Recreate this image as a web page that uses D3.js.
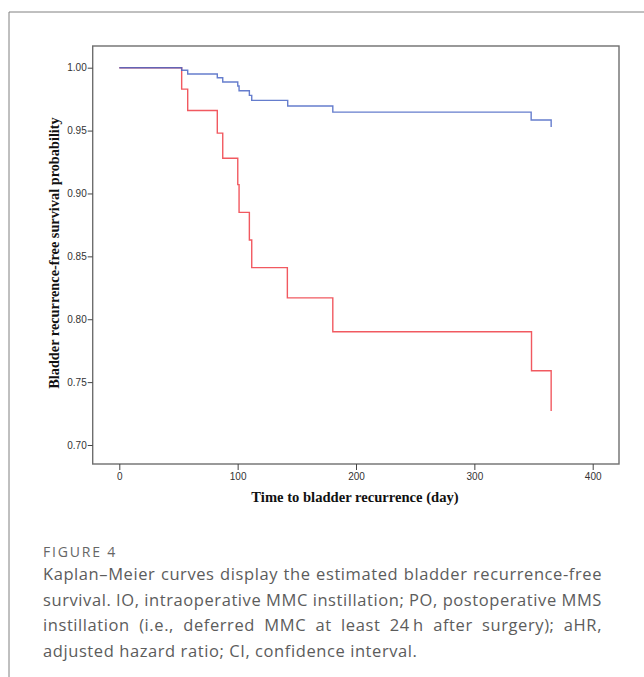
<!DOCTYPE html>
<html><head><meta charset="utf-8">
<script src="https://cdn.jsdelivr.net/npm/d3@7"></script>
<style>body{margin:0;background:#fff;} svg{display:block;}</style>
</head><body>
<svg id="c" width="644" height="677"></svg>
<script>
// Data
const ioTimes = [0, 52.7, 57.8, 82.8, 87.4, 100.1, 101.2, 109.9, 111.9, 142.3, 180.4, 348.0, 364.9];
const ioSurv  = [1.000, 0.998, 0.995, 0.992, 0.9886, 0.9854, 0.9817, 0.978, 0.974, 0.9695, 0.9647, 0.9584, 0.9528];
const poTimes = [0, 52.7, 57.8, 82.8, 87.4, 100.1, 101.2, 109.9, 111.9, 142.0, 180.4, 348.3, 364.9];
const poSurv  = [1.000, 0.983, 0.966, 0.948, 0.928, 0.907, 0.885, 0.863, 0.841, 0.817, 0.790, 0.759, 0.727];
const xTicks = [0, 100, 200, 300, 400];
const yTicks = [0.70, 0.75, 0.80, 0.85, 0.90, 0.95, 1.00];
const xTitle = "Time to bladder recurrence (day)";
const yTitle = "Bladder recurrence-free survival probability";
const figLabel = "FIGURE 4";
const captionLines = [
  "Kaplan\u2013Meier curves display the estimated bladder recurrence-free",
  "survival. IO, intraoperative MMC instillation; PO, postoperative MMS",
  "instillation (i.e., deferred MMC at least 24\u2009h after surgery); aHR,",
  "adjusted hazard ratio; CI, confidence interval."
];

const svg = d3.select("#c");
// outer frame
svg.append("path").attr("d","M9,677 V12 H644").attr("fill","none").attr("stroke","#808080").attr("stroke-width",1);

const box = {l:92.7, r:619, t:46, b:464};
const x = d3.scaleLinear().domain([0,400]).range([119.3,592.7]);
const y = d3.scaleLinear().domain([0.70,1.00]).range([445,67.7]);

// plot frame
svg.append("rect").attr("x",box.l).attr("y",box.t).attr("width",box.r-box.l).attr("height",box.b-box.t)
  .attr("fill","none").attr("stroke","#6e6e6e").attr("stroke-width",1.4);

// y axis
const yAxis = d3.axisLeft(y).tickValues(yTicks).tickFormat(d3.format(".2f")).tickSize(5).tickPadding(1);
const gy = svg.append("g").attr("transform",`translate(${box.l},0)`).call(yAxis);
gy.select(".domain").remove();
gy.selectAll("line").attr("stroke","#444");
gy.selectAll("text").attr("font-family","Liberation Sans, Arial, sans-serif").attr("font-size",10).attr("fill","#333");

// x axis
const xAxis = d3.axisBottom(x).tickValues(xTicks).tickSize(6).tickPadding(3);
const gx = svg.append("g").attr("transform",`translate(0,${box.b})`).call(xAxis);
gx.select(".domain").remove();
gx.selectAll("line").attr("stroke","#444");
gx.selectAll("text").attr("font-family","Liberation Sans, Arial, sans-serif").attr("font-size",10).attr("fill","#333");

// titles
svg.append("text").attr("x",355).attr("y",502).attr("text-anchor","middle")
  .attr("font-family","Liberation Serif, Times New Roman, serif").attr("font-weight","bold").attr("font-size",14.6).attr("fill","#111")
  .text(xTitle);
svg.append("text").attr("transform","translate(54,253) rotate(-90)").attr("text-anchor","middle").attr("dominant-baseline","central")
  .attr("font-family","Liberation Serif, Times New Roman, serif").attr("font-weight","bold").attr("font-size",14.3).attr("fill","#111")
  .text(yTitle);

// KM step curves
function steps(ts, ss){
  return ts.map((t,i)=>({t, s:ss[i]}));
}
const line = d3.line().x(d=>x(d.t)).y(d=>y(d.s)).curve(d3.curveStepAfter);
svg.append("path").datum(steps(poTimes,poSurv)).attr("d",line)
  .attr("fill","none").attr("stroke","#f0474f").attr("stroke-width",1.4).attr("stroke-opacity",0.9);
svg.append("path").datum(steps(ioTimes,ioSurv)).attr("d",line)
  .attr("fill","none").attr("stroke","#4a66c4").attr("stroke-width",1.4).attr("stroke-opacity",0.85);

// caption
const fl = svg.append("text").attr("x",43).attr("y",557).attr("font-family","Open Sans, sans-serif").attr("font-size",14)
  .attr("fill","#666").text(figLabel);
{
  const w = fl.node().getComputedTextLength();
  fl.attr("letter-spacing", Math.max(0,(74 - w)/(figLabel.length)));
}
const capX = 43, capR = 602, capY0 = 580, capDy = 25.7;
const capNodes = captionLines.map((ln,i)=> svg.append("text").attr("x",capX).attr("y",capY0+i*capDy)
    .attr("font-family","Open Sans, sans-serif").attr("font-size",16.5).attr("fill","#5c5c5c").attr("font-weight",400)
    .text(ln));
// letter spacing so that the first line nearly fills the column
const w1 = capNodes[0].node().getComputedTextLength();
const ls = Math.max(0,(capR - capX - 4 - w1)/captionLines[0].length);
capNodes.forEach((t,i)=>{
  t.attr("letter-spacing", ls);
  if(i < captionLines.length-1){
    const w = t.node().getComputedTextLength();
    const n = (captionLines[i].match(/ /g)||[]).length;
    if(n>0) t.attr("word-spacing",(capR-capX-w)/n);
  }
});
</script>
</body></html>
